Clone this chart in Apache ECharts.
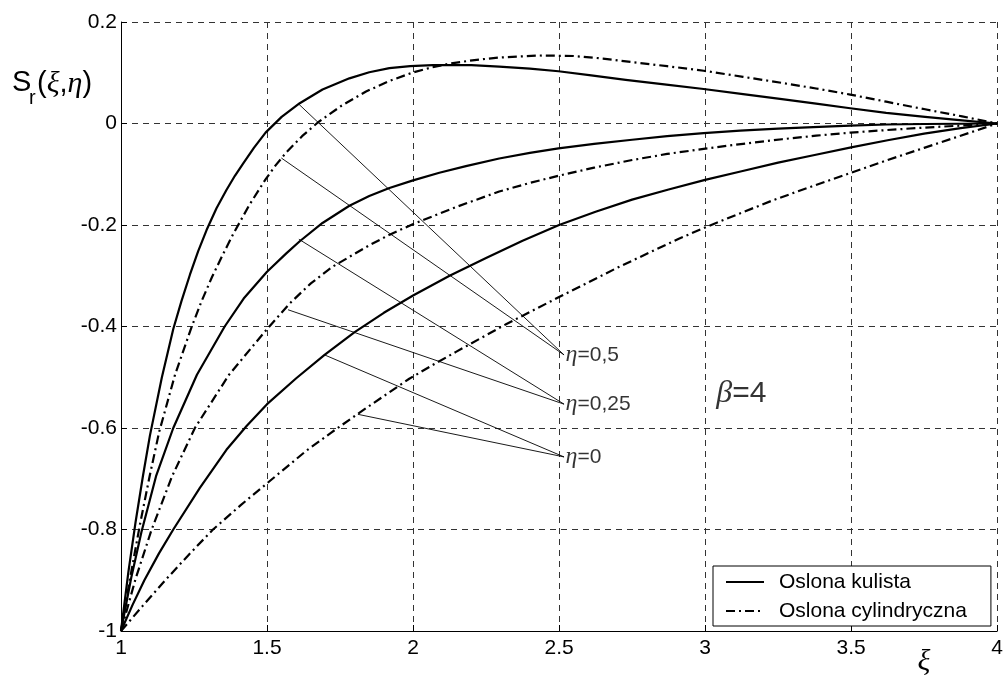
<!DOCTYPE html>
<html>
<head>
<meta charset="utf-8">
<script src="https://cdn.jsdelivr.net/npm/echarts@6/dist/echarts.min.js"></script>
<style>html,body{margin:0;padding:0;background:#fff;}#c{width:1006px;height:682px;}</style>
</head>
<body>
<div id="c"></div>
<script>
// ---- data ----
const xTicks = [1, 1.5, 2, 2.5, 3, 3.5, 4];
const xTickLabels = ['1', '1.5', '2', '2.5', '3', '3.5', '4'];
const yTicks = [-1, -0.8, -0.6, -0.4, -0.2, 0, 0.2];
const yTickLabels = ['-1', '-0.8', '-0.6', '-0.4', '-0.2', '0', '0.2'];

const seriesNames = ['Oslona kulista', 'Oslona cylindryczna'];

// Oslona kulista (solid)
const kulistaEta05 = [[1,-1],[1.025,-0.885],[1.05,-0.785],[1.075,-0.695],[1.099,-0.615],[1.14,-0.5],[1.179,-0.405],[1.207,-0.35],[1.236,-0.298],[1.264,-0.252],[1.293,-0.21],[1.327,-0.167],[1.361,-0.131],[1.39,-0.103],[1.418,-0.079],[1.455,-0.048],[1.495,-0.018],[1.55,0.013],[1.612,0.04],[1.69,0.067],[1.782,0.089],[1.85,0.101],[1.919,0.109],[1.99,0.113],[2.067,0.115],[2.2,0.115],[2.295,0.112],[2.4,0.108],[2.498,0.103],[2.61,0.095],[2.728,0.086],[2.86,0.077],[2.995,0.068],[3.13,0.058],[3.263,0.048],[3.38,0.039],[3.497,0.03],[3.62,0.021],[3.753,0.013],[3.88,0.006],[4,0]];
const kulistaEta025 = [[1,-1],[1.035,-0.895],[1.07,-0.805],[1.12,-0.695],[1.179,-0.6],[1.26,-0.495],[1.355,-0.4],[1.42,-0.345],[1.5,-0.292],[1.566,-0.256],[1.612,-0.232],[1.69,-0.196],[1.782,-0.162],[1.85,-0.143],[1.919,-0.127],[2.0,-0.112],[2.09,-0.097],[2.181,-0.084],[2.295,-0.069],[2.4,-0.058],[2.498,-0.049],[2.62,-0.04],[2.75,-0.032],[2.87,-0.025],[2.995,-0.019],[3.12,-0.014],[3.25,-0.01],[3.37,-0.007],[3.497,-0.004],[3.62,-0.002],[3.75,-0.001],[4,0]];
const kulistaEta0 = [[1,-1],[1.04,-0.948],[1.08,-0.9],[1.13,-0.847],[1.179,-0.8],[1.27,-0.718],[1.361,-0.643],[1.43,-0.596],[1.5,-0.553],[1.6,-0.502],[1.697,-0.456],[1.8,-0.411],[1.9,-0.373],[2.0,-0.339],[2.125,-0.3],[2.25,-0.265],[2.375,-0.231],[2.5,-0.2],[2.625,-0.174],[2.75,-0.15],[2.875,-0.13],[3.0,-0.111],[3.125,-0.094],[3.25,-0.077],[3.375,-0.062],[3.5,-0.047],[3.625,-0.033],[3.75,-0.02],[3.875,-0.009],[4,0]];

// Oslona cylindryczna (dash-dot)
const cylEta05 = [[1,-1],[1.033,-0.89],[1.065,-0.79],[1.098,-0.695],[1.131,-0.607],[1.185,-0.495],[1.241,-0.402],[1.276,-0.35],[1.312,-0.302],[1.349,-0.258],[1.384,-0.218],[1.44,-0.16],[1.495,-0.11],[1.53,-0.082],[1.566,-0.057],[1.62,-0.025],[1.674,0.002],[1.755,0.035],[1.839,0.063],[1.92,0.084],[1.997,0.1],[2.06,0.11],[2.124,0.118],[2.21,0.125],[2.295,0.13],[2.432,0.134],[2.55,0.133],[2.65,0.128],[2.75,0.121],[2.87,0.113],[2.995,0.104],[3.13,0.092],[3.263,0.08],[3.38,0.069],[3.497,0.057],[3.62,0.043],[3.753,0.028],[3.88,0.014],[4,0]];
const cylEta025 = [[1,-1],[1.05,-0.897],[1.105,-0.8],[1.175,-0.695],[1.253,-0.6],[1.37,-0.495],[1.5,-0.405],[1.577,-0.355],[1.65,-0.315],[1.725,-0.282],[1.85,-0.24],[1.92,-0.219],[1.997,-0.199],[2.15,-0.164],[2.295,-0.134],[2.4,-0.117],[2.498,-0.103],[2.62,-0.087],[2.75,-0.072],[2.87,-0.06],[2.995,-0.05],[3.13,-0.04],[3.263,-0.031],[3.38,-0.024],[3.497,-0.018],[3.62,-0.013],[3.753,-0.008],[3.88,-0.004],[4,0]];
const cylEta0 = [[1,-1],[1.075,-0.95],[1.15,-0.901],[1.23,-0.851],[1.315,-0.8],[1.41,-0.752],[1.5,-0.709],[1.567,-0.677],[1.634,-0.645],[1.72,-0.609],[1.811,-0.572],[1.9,-0.537],[1.987,-0.503],[2.07,-0.475],[2.147,-0.45],[2.32,-0.395],[2.5,-0.342],[2.7,-0.284],[2.91,-0.227],[3.0,-0.205],[3.115,-0.178],[3.229,-0.152],[3.365,-0.124],[3.5,-0.097],[3.625,-0.072],[3.75,-0.048],[3.875,-0.024],[4,0]];

// annotation: label anchor points and leader line start points
const etaLabels = ['0,5', '0,25', '0'];
const etaAnchors = [[2.517,-0.456],[2.517,-0.553],[2.517,-0.657]];
const leaderStarts = [
  [[1.609,0.038],[1.549,-0.068]],
  [[1.609,-0.228],[1.572,-0.367]],
  [[1.697,-0.456],[1.811,-0.573]]
];
const betaLabel = '=4';
const betaAnchor = [3.033,-0.533];

// ---- chart ----
const SANS = '"Liberation Sans", Arial, sans-serif';
const SERIF = '"Liberation Serif", "Times New Roman", serif';
const DASHDOT = [9, 4, 2, 4];

const chart = echarts.init(document.getElementById('c'), null, {renderer: 'canvas'});

function curve(name, data, dashed) {
  return {
    type: 'line', name: name, data: data,
    symbol: 'none', showSymbol: false, silent: true,
    smooth: false,
    lineStyle: {color: '#000', width: 2.2, type: dashed ? DASHDOT : 'solid', cap: 'butt', join: 'round'},
    itemStyle: {color: '#000'},
    z: 3
  };
}

const series = [
  curve(seriesNames[0], kulistaEta05, false),
  curve(seriesNames[0], kulistaEta025, false),
  curve(seriesNames[0], kulistaEta0, false),
  curve(seriesNames[1], cylEta05, true),
  curve(seriesNames[1], cylEta025, true),
  curve(seriesNames[1], cylEta0, true)
];

leaderStarts.forEach(function (pair, i) {
  pair.forEach(function (p) {
    series.push({
      type: 'line', name: 'leader', data: [p, etaAnchors[i]],
      symbol: 'none', silent: true,
      lineStyle: {color: '#000', width: 0.9}, z: 4
    });
  });
});

series.push({
  type: 'scatter', name: 'etaLabels', silent: true,
  symbol: 'circle', symbolSize: 1, itemStyle: {color: 'rgba(0,0,0,0)'},
  data: etaAnchors.map(function (p, i) { return {value: p, lab: etaLabels[i]}; }),
  label: {
    show: true, position: 'right', distance: 1, color: '#000',
    formatter: function (pr) { return '{g|η}{t|=' + pr.data.lab + '}'; },
    rich: {
      g: {fontFamily: SERIF, fontStyle: 'italic', fontSize: 24, color: '#000'},
      t: {fontFamily: SANS, fontSize: 21, color: '#000'}
    }
  }, z: 5
});

series.push({
  type: 'scatter', name: 'betaLabel', silent: true,
  symbol: 'circle', symbolSize: 1, itemStyle: {color: 'rgba(0,0,0,0)'},
  data: [{value: betaAnchor}],
  label: {
    show: true, position: 'right', distance: 1, color: '#000',
    formatter: function () { return '{g|β}{t|' + betaLabel + '}'; },
    rich: {
      g: {fontFamily: SERIF, fontStyle: 'italic', fontSize: 32, color: '#000'},
      t: {fontFamily: SANS, fontSize: 30, color: '#000'}
    }
  }, z: 5
});

const gridLine = {show: true, lineStyle: {color: '#333', width: 1, type: [6, 5]}};

chart.setOption({
  animation: false,
  backgroundColor: '#fff',
  grid: {left: 121, right: 7, top: 22, bottom: 51, containLabel: false},
  xAxis: {
    type: 'value', min: xTicks[0], max: xTicks[xTicks.length - 1], interval: 0.5,
    axisLine: {show: true, onZero: false, lineStyle: {color: '#000', width: 1}},
    axisTick: {show: true, inside: true, length: 6, lineStyle: {color: '#000'}},
    axisLabel: {
      margin: 7, color: '#000', fontFamily: SANS, fontSize: 21,
      formatter: function (v) { const i = xTicks.findIndex(function (t) { return Math.abs(t - v) < 1e-9; }); return i >= 0 ? xTickLabels[i] : ''; }
    },
    splitLine: gridLine
  },
  yAxis: {
    type: 'value', min: yTicks[0], max: yTicks[yTicks.length - 1], interval: 0.2,
    axisLine: {show: true, onZero: false, lineStyle: {color: '#000', width: 1}},
    axisTick: {show: true, inside: true, length: 6, lineStyle: {color: '#000'}},
    axisLabel: {
      margin: 4, color: '#000', fontFamily: SANS, fontSize: 21,
      formatter: function (v) { const i = yTicks.findIndex(function (t) { return Math.abs(t - v) < 1e-9; }); return i >= 0 ? yTickLabels[i] : ''; }
    },
    splitLine: gridLine
  },
  legend: {
    data: seriesNames, selectedMode: false,
    orient: 'vertical', left: 713, top: 566,
    itemWidth: 38, itemHeight: 14, itemGap: 7,
    padding: [5, 24, 4, 12],
    borderColor: '#000', borderWidth: 1, backgroundColor: '#fff',
    textStyle: {fontFamily: SANS, fontSize: 21, color: '#000', lineHeight: 22, padding: [0, 0, 0, 10]},
    lineStyle: {width: 2},
    itemStyle: {color: 'rgba(0,0,0,0)', opacity: 0, borderWidth: 0},
    z: 10
  },
  graphic: [
    {type: 'text', x: 12, y: 83, z: 20, style: {text: 'S', font: '29px ' + SANS, fill: '#000', verticalAlign: 'middle'}},
    {type: 'text', x: 29, y: 98, z: 20, style: {text: 'r', font: '20px ' + SANS, fill: '#000', verticalAlign: 'middle'}},
    {type: 'text', x: 37, y: 84, z: 20, style: {
      text: '{p|(}{g|ξ}{p|,}{g|η}{p|)}', verticalAlign: 'middle',
      rich: {
        p: {fontFamily: SANS, fontSize: 29, fill: '#000', color: '#000'},
        g: {fontFamily: SERIF, fontStyle: 'italic', fontSize: 30, fill: '#000', color: '#000'}
      }
    }},
    {type: 'text', x: 924, y: 662, z: 20, style: {text: 'ξ', font: 'italic 30px ' + SERIF, fill: '#000', align: 'center', verticalAlign: 'middle'}}
  ],
  series: series
});
</script>
</body>
</html>
